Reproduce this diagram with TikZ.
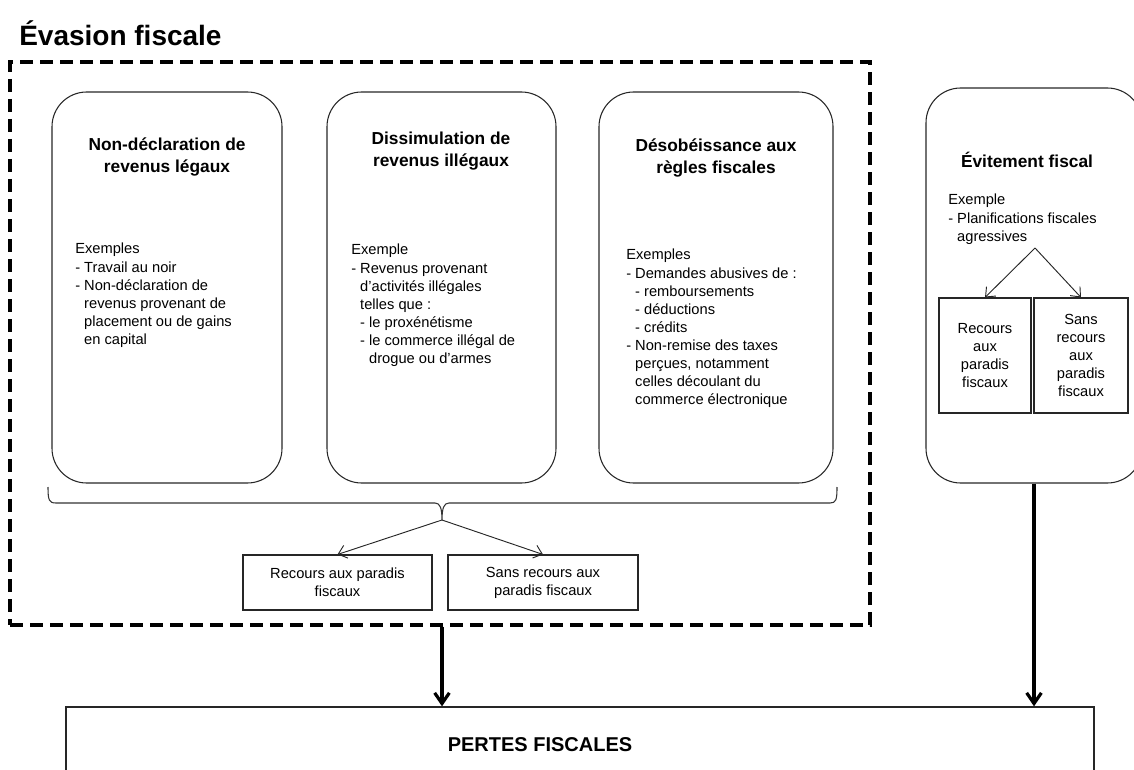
\documentclass[tikz,border=0pt]{standalone}
\usepackage{fontspec}
\setmainfont{Liberation Sans}
\usetikzlibrary{arrows.meta,fit}
\begin{document}
\begin{tikzpicture}[x=0.75pt,y=-0.75pt,
  rbox/.style={draw=black!85, line width=0.8pt, rounded corners=26pt, inner sep=0pt},
  sbox/.style={draw=black!85, line width=0.8pt, inner sep=0pt},
  dashbox/.style={draw=black, line width=2.6pt, dash pattern=on 9.5pt off 5.5pt, inner sep=0pt},
  ttl/.style={font=\fontsize{13}{16.5}\selectfont\bfseries, align=center, inner sep=0pt},
  body/.style={font=\fontsize{11}{13.6}\selectfont, align=left, anchor=north west, inner sep=0pt},
  cbody/.style={font=\fontsize{11}{13.6}\selectfont, align=center, inner sep=0pt},
  tarrow/.style={draw=black!85, line width=0.7pt, -{Straight Barb[length=6pt,width=10pt]}},
  bigarrow/.style={draw=black, line width=2.4pt, -{Straight Barb[length=8pt,width=11pt]}},
  bracepath/.style={draw=black!80, line width=0.8pt}
]
\useasboundingbox (0,0) rectangle (1134,770);
\clip (0,0) rectangle (1134,770);

% title
\node[anchor=west, inner sep=0pt, font=\fontsize{21}{24}\selectfont\bfseries] (title) at (19,33) {Évasion fiscale};

% dashed container
\node[dashbox, fit={(10,62) (870,625)}] (evasion) {};

% three rounded boxes
\node[rbox, fit={(52,92) (282,483)}] (b1) {};
\node[rbox, fit={(327,92) (556,483)}] (b2) {};
\node[rbox, fit={(599,92) (833,483)}] (b3) {};

\node[ttl] (t1) at (167,157) {Non-déclaration de\\revenus légaux};
\node[ttl] (t2) at (441,151) {Dissimulation de\\revenus illégaux};
\node[ttl] (t3) at (716,158) {Désobéissance aux\\règles fiscales};

\node[body] (x1) at (75,243) {Exemples\\- Travail au noir\\- Non-déclaration de\\\hphantom{- }revenus provenant de\\\hphantom{- }placement ou de gains\\\hphantom{- }en capital};
\node[body] (x2) at (351,244) {Exemple\\- Revenus provenant\\\hphantom{- }d'activités illégales\\\hphantom{- }telles que :\\\hphantom{- }- le proxénétisme\\\hphantom{- }- le commerce illégal de\\\hphantom{- - }drogue ou d'armes};
\node[body] (x3) at (626,249) {Exemples\\- Demandes abusives de :\\\hphantom{- }- remboursements\\\hphantom{- }- déductions\\\hphantom{- }- crédits\\- Non-remise des taxes\\\hphantom{- }perçues, notamment\\\hphantom{- }celles découlant du\\\hphantom{- }commerce électronique};

% brace
\coordinate (cusp) at (442,520);
\draw[bracepath] (48,487) .. controls (48,500) and (49,503) .. (56,503) -- (435,503)
  .. controls (440,503) and (442,508) .. (cusp)
  .. controls (442,508) and (444,503) .. (449,503) -- (830,503)
  .. controls (836,503) and (837,500) .. (837,487);

% lower boxes
\node[sbox, fit={(243,555) (432,610)}] (ra) {};
\node[cbody] at (ra.center) {Recours aux paradis\\fiscaux};
\node[sbox, fit={(448,555) (638,610)}] (rb) {};
\node[cbody] at (rb.center) {Sans recours aux\\paradis fiscaux};
\draw[tarrow] (cusp) -- (ra.north);
\draw[tarrow] (cusp) -- (rb.north);

% evitement box
\node[rbox, fit={(926,88) (1142,483)}] (evit) {};
\node[ttl] (t4) at (1027,160) {Évitement fiscal};
\node[body] (x4) at (948,194) {Exemple\\- Planifications fiscales\\\hphantom{- }agressives};
\coordinate (apex) at (1035,248);
\node[sbox, fit={(939,298) (1031,413)}] (ea) {};
\node[cbody] at (ea.center) {Recours\\aux\\paradis\\fiscaux};
\node[sbox, fit={(1034,298) (1128,413)}] (eb) {};
\node[cbody] at (eb.center) {Sans\\recours\\aux\\paradis\\fiscaux};
\draw[tarrow] (apex) -- (ea.north);
\draw[tarrow] (apex) -- (eb.north);

% pertes fiscales
\node[sbox, line width=1pt, fit={(66,707) (1094,800)}] (pertes) {};
\node[inner sep=0pt, font=\fontsize{15}{18}\selectfont\bfseries] (pt) at (540,745) {PERTES FISCALES};

% big arrows
\draw[bigarrow] (evasion.south -| cusp) -- (cusp |- pertes.north);
\draw[bigarrow] (evit.south) -- (evit.south |- pertes.north);
\end{tikzpicture}
\end{document}
